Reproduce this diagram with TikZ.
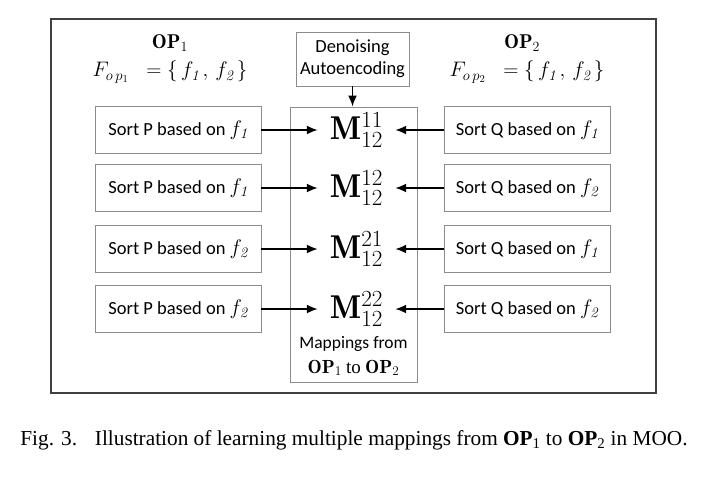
\RequirePackage{fix-cm}
\documentclass[tikz,border=0pt]{standalone}
\usepackage{amsmath,amssymb}
\usepackage{fontspec}
\usepackage{xcolor}
\newfontfamily\boxfont{Carlito}
\newfontfamily\capfont{Liberation Serif}
\usetikzlibrary{arrows.meta}

\tikzset{
  sortbox/.style={draw=black!45, line width=0.9pt, minimum width=166pt,
    minimum height=47pt, inner sep=0pt, font=\boxfont\fontsize{18.5}{20}\selectfont},
  mapnode/.style={inner xsep=12pt, inner ysep=4pt, font=\fontsize{33}{36}\selectfont},
  arr/.style={line width=1.8pt, -{Latex[length=11pt,width=9pt]}}
}

\begin{document}
\begin{tikzpicture}[x=1pt,y=-1pt]
  \useasboundingbox (0,0) rectangle (717,480);
  \draw[black!75, line width=1.6pt] (51,19) rectangle (656,393);
  % headings
  \node (op1) at (170,43) {\fontsize{20}{22}\selectfont $\mathbf{OP}_1$};
  \node (fop1) at (170,72) {\fontsize{21}{22}\selectfont
    $F_{o\,p_{1}}\;\; = \{\, f_{\mathit{1}}\,,\, f_{\mathit{2}}\,\}$};
  \node (op2) at (522,43) {\fontsize{20}{22}\selectfont $\mathbf{OP}_2$};
  \node (fop2) at (527,72) {\fontsize{21}{22}\selectfont
    $F_{o\,p_{2}}\;\; = \{\, f_{\mathit{1}}\,,\, f_{\mathit{2}}\,\}$};
  % mapping panel
  \node[draw=black!45, line width=0.9pt, minimum width=127pt, minimum height=275pt,
        inner sep=0pt] (maps) at (353.5,244.5) {};
  \node[draw=black!45, line width=0.9pt, minimum width=113pt, minimum height=54pt,
        inner sep=0pt, align=center, font=\boxfont\fontsize{18.5}{22}\selectfont]
        (den) at (352.5,59) {Denoising\\Autoencoding};
  \draw[arr] (den.south) -- (den.south |- maps.north);
  \node[align=center, font=\boxfont\fontsize{17.5}{25}\selectfont] (mapstxt) at (353.5,356)
        {Mappings from\\{\fontsize{19}{20}\selectfont $\mathbf{OP}_1$ {\capfont to} $\mathbf{OP}_2$}};
  % rows
  \foreach \i/\y/\p/\q/\mm in {1/130/1/1/11, 2/188/1/2/12, 3/249/2/1/21, 4/309/2/2/22} {
    \node[sortbox] (p\i) at (178,\y) {Sort P based on {\fontsize{21}{20}\selectfont $f_{\mathit{\p}}$}};
    \node[sortbox] (q\i) at (527,\y) {Sort Q based on {\fontsize{21}{20}\selectfont $f_{\mathit{\q}}$}};
    \node[mapnode] (m\i) at (356.5,\y) {$\mathbf{M}^{\mm}_{12}$};
    \draw[arr] (p\i.east) -- (m\i.west);
    \draw[arr] (q\i.west) -- (m\i.east);
  }
  % caption
  \node (cap) at (354,440) {\capfont\fontsize{21.3}{24}\selectfont
    Fig. 3.\hspace{0.5em} Illustration of learning multiple mappings from
    \textbf{OP}\textsubscript{1} to \textbf{OP}\textsubscript{2} in MOO.};
\end{tikzpicture}
\end{document}
